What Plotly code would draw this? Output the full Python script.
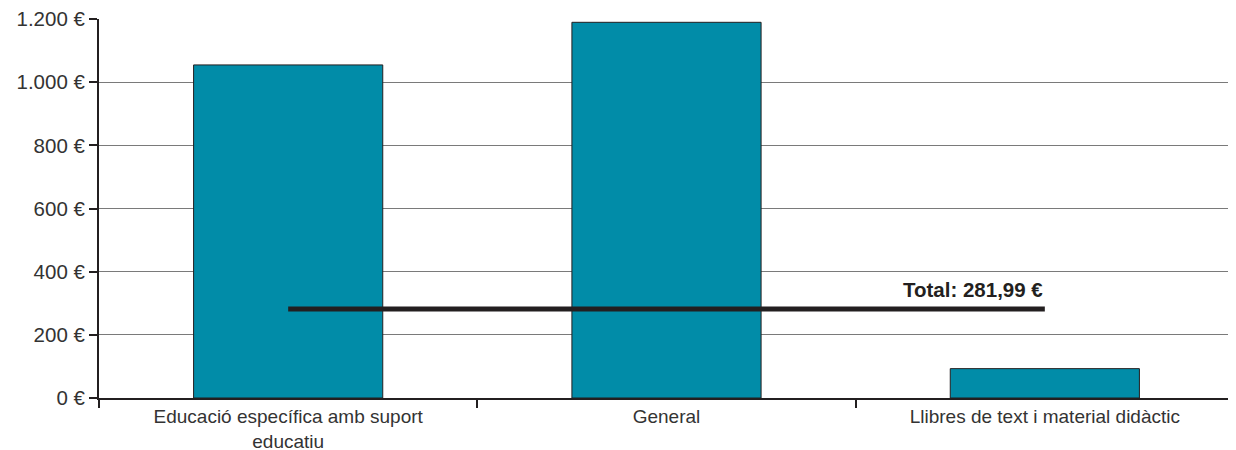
import plotly.graph_objects as go

categories = ["Educació específica amb suport<br>educatiu", "General", "Llibres de text i material didàctic"]
values = [1055, 1190, 93]
total_value = 281.99
total_label = "Total: 281,99 €"
ytick_vals = [0, 200, 400, 600, 800, 1000, 1200]
ytick_text = ["0 €", "200 €", "400 €", "600 €", "800 €", "1.000 €", "1.200 €"]

font_family = "Liberation Sans, Arial, sans-serif"
text_color = "#333333"

fig = go.Figure()
fig.add_trace(go.Bar(
    x=categories, y=values, width=0.5,
    marker=dict(color="#018ca8", line=dict(color="#231f20", width=1)),
    showlegend=False, hoverinfo="skip",
))
fig.add_trace(go.Scatter(
    x=categories, y=[total_value] * len(categories), mode="lines",
    line=dict(color="#231f20", width=5), showlegend=False, hoverinfo="skip",
))
fig.add_annotation(
    x=categories[-1], y=total_value, text="<b>" + total_label + "</b>",
    showarrow=False, xanchor="right", yanchor="bottom", yshift=6,
    font=dict(family=font_family, size=20.5, color="#231f20"),
)

# page body has an 8px margin, so the figure is shrunk by 8px on each axis
fig.update_layout(
    width=1228, height=442,
    margin=dict(l=91, r=2, t=11, b=52, autoexpand=False),
    paper_bgcolor="white", plot_bgcolor="white",
    font=dict(family=font_family, size=20, color=text_color),
    bargap=0.5,
)
fig.update_yaxes(
    range=[0, 1200.5], tickvals=ytick_vals, ticktext=ytick_text,
    tickfont=dict(size=20.5), ticklabeloverflow="allow",
    showgrid=True, gridcolor="#7a7a7a", gridwidth=1,
    showline=True, linecolor="#231f20", linewidth=2,
    ticks="outside", ticklen=8, tickwidth=2, tickcolor="#231f20",
    zeroline=False, fixedrange=True,
)
fig.update_xaxes(
    showline=True, linecolor="#231f20", linewidth=2,
    ticks="outside", ticklen=8, tickwidth=2, tickcolor="#231f20",
    tickfont=dict(size=19), ticklabeloverflow="allow",
    tickson="boundaries", showgrid=False, fixedrange=True,
)

fig.write_html("out.html")
